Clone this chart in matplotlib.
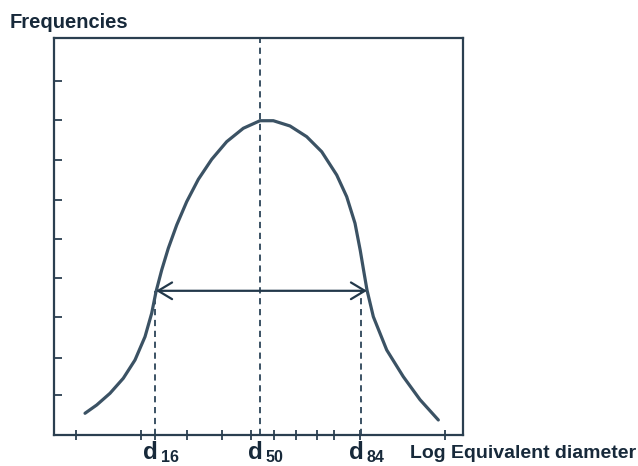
import matplotlib
matplotlib.use("Agg")
import matplotlib.pyplot as plt
from matplotlib.patches import FancyArrowPatch
import matplotlib.transforms as mtransforms

# Curve points (log diameter, frequency; arbitrary units)
curve_x = [0.751, 1.037, 1.362, 1.687, 1.973, 2.218, 2.381, 2.487, 2.626, 2.787, 2.993,
           3.237, 3.521, 3.848, 4.215, 4.621, 5.029, 5.355, 5.763, 6.171, 6.538, 6.905,
           7.149, 7.352, 7.480, 7.570, 7.645, 7.800, 8.127, 8.533, 8.941, 9.389]
curve_y = [0.540, 0.749, 1.044, 1.423, 1.884, 2.472, 3.063, 3.607, 4.155, 4.702, 5.290,
           5.878, 6.441, 6.946, 7.392, 7.730, 7.921, 7.921, 7.788, 7.518, 7.139, 6.551,
           6.004, 5.333, 4.650, 4.100, 3.650, 2.977, 2.137, 1.463, 0.883, 0.371]

# Characteristic diameters
d_names = ["16", "50", "84"]
d_values = [2.46, 5.02, 7.49]
arrow_left, arrow_right, arrow_level = 2.487, 7.645, 3.63

# Tick positions
xtick_pos = [0.52, 2.11, 2.46, 3.24, 4.11, 4.80, 5.37, 5.90, 6.42, 6.84, 7.47, 9.55]
ytick_pos = [1.00, 1.94, 2.97, 3.95, 4.94, 5.92, 6.93, 7.94, 8.92]

line_color = "#3b5264"
spine_color = "#2b3f50"
text_color = "#17293a"
font = "Liberation Sans"

W, H = 638, 466
fig = plt.figure(figsize=(W / 100, H / 100), dpi=100)
ax = fig.add_axes([0.0851, 0.0672, 0.7262 - 0.0851, 0.9178 - 0.0672])
ax.set_xlim(0, 10)
ax.set_ylim(0, 10)

ax.plot(curve_x, curve_y, color=line_color, lw=2.3, solid_capstyle="round",
        solid_joinstyle="round", zorder=3)

# dashed lines
ax.plot([d_values[1], d_values[1]], [0, 10], color=line_color, lw=1.4,
        linestyle=(0, (3.2, 2.4)), zorder=2)
for dv in (d_values[0], d_values[2]):
    ax.plot([dv, dv], [0, arrow_level], color=line_color, lw=1.4,
            linestyle=(0, (3.2, 2.4)), zorder=2)

arr = FancyArrowPatch((arrow_left, arrow_level), (arrow_right, arrow_level),
                      arrowstyle="<->,head_length=0.5,head_width=0.3",
                      mutation_scale=20, color="#22384a", lw=1.6, zorder=4,
                      shrinkA=0, shrinkB=0)
ax.add_patch(arr)

for s in ax.spines.values():
    s.set_color(spine_color)
    s.set_linewidth(1.6)

ax.set_xticks(xtick_pos)
ax.set_yticks(ytick_pos)
ax.set_xticklabels([])
ax.set_yticklabels([])
ax.tick_params(axis="x", direction="inout", length=7, width=1.3, color=spine_color)
ax.tick_params(axis="y", direction="in", length=6, width=1.3, color=spine_color)

# Labels
fig.text(10 / W, 1 - 28 / H, "Frequencies", fontsize=14.5, fontweight="bold",
         family=font, color=text_color, ha="left", va="baseline")
fig.text(636 / W, 1 - 458 / H, "Log Equivalent diameter", fontsize=14,
         fontweight="bold", family=font, color=text_color, ha="right", va="baseline")

trans = mtransforms.blended_transform_factory(ax.transData, fig.transFigure)
for name, dv in zip(d_names, d_values):
    ax.text(dv + 0.08, 1 - 459 / H, "d", transform=trans, fontsize=17.5, fontweight="bold",
            family=font, color=text_color, ha="right", va="baseline", clip_on=False)
    ax.text(dv + 0.14, 1 - 462 / H, name, transform=trans, fontsize=11.5, fontweight="bold",
            family=font, color=text_color, ha="left", va="baseline", clip_on=False)

fig.savefig("out.png", dpi=100, facecolor="white")
